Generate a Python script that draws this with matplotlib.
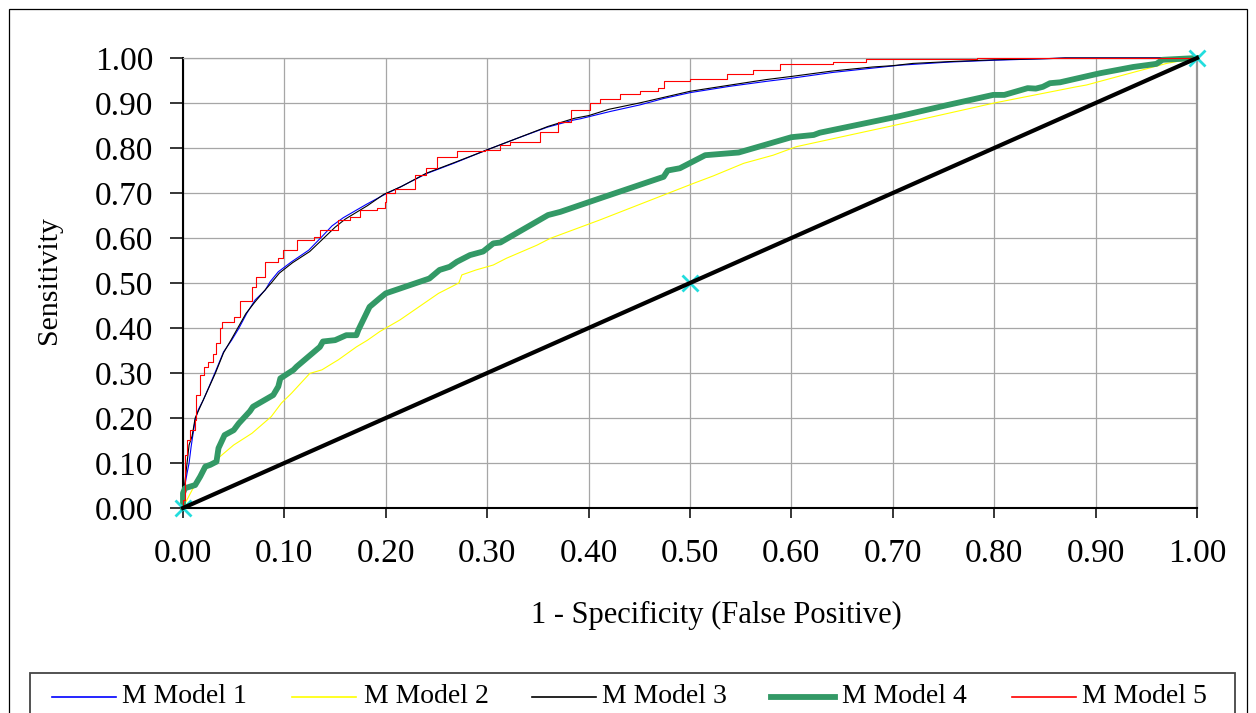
import numpy as np
import matplotlib
matplotlib.use("Agg")
import matplotlib.pyplot as plt
from matplotlib.patches import Rectangle
from matplotlib.lines import Line2D

plt.rcParams['font.family'] = ['Liberation Serif', 'DejaVu Serif']

# ---------------- data ----------------
m1_fpr = [0, 0.001, 0.004, 0.006, 0.008, 0.009, 0.012, 0.015, 0.020, 0.025, 0.032, 0.040, 0.048,
          0.055, 0.063, 0.071, 0.081, 0.086, 0.094, 0.107, 0.124, 0.137, 0.147, 0.158, 0.181, 0.200,
          0.214, 0.240, 0.267, 0.300, 0.329, 0.359, 0.385, 0.392, 0.421, 0.451, 0.474, 0.500, 0.539,
          0.575, 0.600, 0.641, 0.678, 0.707, 0.756, 0.800, 0.858, 0.870, 1.0]
m1_tpr = [0, 0.040, 0.077, 0.100, 0.136, 0.151, 0.196, 0.218, 0.240, 0.266, 0.303, 0.347, 0.373,
          0.399, 0.433, 0.462, 0.484, 0.503, 0.525, 0.547, 0.573, 0.603, 0.627, 0.645, 0.675, 0.698,
          0.713, 0.743, 0.766, 0.796, 0.821, 0.846, 0.862, 0.865, 0.881, 0.896, 0.910, 0.923, 0.937,
          0.948, 0.955, 0.968, 0.977, 0.984, 0.991, 0.995, 0.999, 1.0, 1.0]

m2_fpr = [0, 0.002, 0.009, 0.015, 0.025, 0.040, 0.050, 0.068, 0.087, 0.097, 0.107, 0.125, 0.137,
          0.150, 0.153, 0.171, 0.182, 0.194, 0.214, 0.252, 0.272, 0.275, 0.289, 0.306, 0.319, 0.349,
          0.362, 0.411, 0.503, 0.523, 0.553, 0.582, 0.605, 0.707, 0.800, 0.881, 0.891, 0.970, 1.0]
m2_tpr = [0, 0.010, 0.040, 0.062, 0.092, 0.121, 0.140, 0.166, 0.203, 0.233, 0.255, 0.299, 0.307,
          0.325, 0.329, 0.358, 0.373, 0.392, 0.418, 0.477, 0.500, 0.518, 0.529, 0.540, 0.555, 0.584,
          0.599, 0.640, 0.721, 0.738, 0.766, 0.784, 0.803, 0.853, 0.900, 0.936, 0.940, 0.988, 1.0]

m3_fpr = [0, 0.002, 0.004, 0.006, 0.009, 0.012, 0.016, 0.021, 0.026, 0.032, 0.040, 0.047, 0.054,
          0.062, 0.071, 0.080, 0.087, 0.095, 0.108, 0.125, 0.138, 0.150, 0.160, 0.182, 0.198, 0.215,
          0.240, 0.268, 0.300, 0.330, 0.360, 0.386, 0.400, 0.420, 0.450, 0.475, 0.500, 0.540, 0.575,
          0.600, 0.640, 0.680, 0.700, 0.720, 0.756, 0.800, 0.858, 0.870, 1.0]
m3_tpr = [0, 0.060, 0.100, 0.140, 0.160, 0.200, 0.220, 0.245, 0.270, 0.300, 0.345, 0.372, 0.400,
          0.432, 0.458, 0.482, 0.500, 0.522, 0.545, 0.570, 0.598, 0.624, 0.642, 0.672, 0.697, 0.714,
          0.744, 0.768, 0.796, 0.822, 0.848, 0.866, 0.872, 0.886, 0.900, 0.913, 0.926, 0.940, 0.952,
          0.959, 0.971, 0.980, 0.983, 0.988, 0.992, 0.996, 0.999, 1.0, 1.0]

m4_fpr = [0, 0, 0.002, 0.012, 0.017, 0.022, 0.027, 0.033, 0.035, 0.041, 0.050, 0.055, 0.066,
          0.069, 0.089, 0.094, 0.096, 0.109, 0.112, 0.135, 0.138, 0.150, 0.161, 0.171, 0.173, 0.184,
          0.194, 0.200, 0.243, 0.253, 0.263, 0.270, 0.283, 0.296, 0.306, 0.313, 0.360, 0.372, 0.411,
          0.474, 0.478, 0.490, 0.515, 0.548, 0.600, 0.622, 0.628, 0.707, 0.753, 0.799, 0.810, 0.833,
          0.841, 0.848, 0.855, 0.865, 0.904, 0.937, 0.960, 0.966, 1.0]
m4_tpr = [0, 0.033, 0.044, 0.051, 0.070, 0.092, 0.096, 0.103, 0.133, 0.162, 0.173, 0.188, 0.215,
          0.225, 0.251, 0.270, 0.288, 0.307, 0.314, 0.358, 0.370, 0.373, 0.384, 0.384, 0.396, 0.447,
          0.466, 0.477, 0.510, 0.529, 0.536, 0.547, 0.562, 0.570, 0.588, 0.590, 0.651, 0.658, 0.688,
          0.736, 0.750, 0.755, 0.784, 0.790, 0.824, 0.829, 0.834, 0.871, 0.895, 0.918, 0.918, 0.933,
          0.932, 0.936, 0.944, 0.946, 0.966, 0.980, 0.987, 0.996, 1.0]

m5_fpr = [0, 0, 0.002, 0.004, 0.007, 0.012, 0.013, 0.017, 0.021, 0.025, 0.030, 0.033, 0.036,
          0.038, 0.050, 0.056, 0.064, 0.068, 0.072, 0.081, 0.094, 0.099, 0.112, 0.129, 0.135, 0.153,
          0.165, 0.175, 0.191, 0.199, 0.200, 0.209, 0.229, 0.240, 0.250, 0.270, 0.298, 0.313, 0.322,
          0.352, 0.370, 0.383, 0.401, 0.411, 0.431, 0.451, 0.468, 0.474, 0.500, 0.536, 0.562, 0.589,
          0.641, 0.674, 0.707, 0.783, 1.0]
m5_tpr = [0, 0.018, 0.118, 0.151, 0.173, 0.196, 0.251, 0.296, 0.314, 0.325, 0.343, 0.366, 0.399,
          0.414, 0.425, 0.459, 0.459, 0.492, 0.514, 0.547, 0.555, 0.573, 0.596, 0.603, 0.618, 0.640,
          0.647, 0.662, 0.666, 0.680, 0.700, 0.710, 0.740, 0.755, 0.780, 0.794, 0.795, 0.807, 0.814,
          0.836, 0.858, 0.884, 0.900, 0.908, 0.921, 0.927, 0.933, 0.948, 0.953, 0.964, 0.973, 0.987,
          0.992, 0.997, 0.998, 1.0, 1.0]

ref_x = [0.0, 0.5, 1.0]
ref_y = [0.0, 0.5, 1.0]

series_names = ["M Model 1", "M Model 2", "M Model 3", "M Model 4", "M Model 5"]
ticks = [0.0, 0.1, 0.2, 0.3, 0.4, 0.5, 0.6, 0.7, 0.8, 0.9, 1.0]
x_label = "1 - Specificity (False Positive)"
y_label = "Sensitivity"

# ---------------- figure ----------------
W, H = 1256, 713
fig = plt.figure(figsize=(W / 100, H / 100), dpi=100)
ax = fig.add_axes([183 / W, (H - 508) / H, (1197 - 183) / W, 450 / H])

colors = ["#0000FF", "#FFFF00", "#000000", "#339966", "#FF0000"]
widths = [0.8, 0.8, 0.8, 4.2, 0.8]

ax.plot(m1_fpr, m1_tpr, color=colors[0], lw=widths[0], clip_on=False, zorder=3)
ax.plot(m2_fpr, m2_tpr, color=colors[1], lw=widths[1], clip_on=False, zorder=3)
ax.plot(m3_fpr, m3_tpr, color=colors[2], lw=widths[2], clip_on=False, zorder=3)
ax.plot(m4_fpr, m4_tpr, color=colors[3], lw=widths[3], clip_on=False, zorder=4)
ax.plot(m5_fpr, m5_tpr, color=colors[4], lw=widths[4], drawstyle='steps-post', clip_on=False, zorder=5)
ax.plot(ref_x, ref_y, linestyle='none', marker='x', markersize=11, markeredgewidth=2.0,
        color='#22DDDD', clip_on=False, zorder=5.5)
ax.plot(ref_x, ref_y, color='black', lw=3.0, clip_on=False, zorder=6)

ax.set_xlim(0, 1)
ax.set_ylim(0, 1)
ax.set_xticks(ticks)
ax.set_yticks(ticks)
ax.set_xticklabels([f"{t:.2f}" for t in ticks])
ax.set_yticklabels([f"{t:.2f}" for t in ticks])
ax.tick_params(axis='both', labelsize=24, colors='black', width=1.1)
ax.tick_params(axis='y', direction='out', length=9.4, pad=12)
ax.tick_params(axis='x', direction='out', length=7.2, pad=15)

ax.grid(True, color='#a6a6a6', lw=0.9)
ax.set_axisbelow(True)
for s in ['left', 'bottom']:
    ax.spines[s].set_color('black')
    ax.spines[s].set_linewidth(1.5)
ax.spines['top'].set_color('#a6a6a6')
ax.spines['top'].set_linewidth(0.9)
ax.spines['right'].set_color('#999999')
ax.spines['right'].set_linewidth(1.6)

ax.set_xlabel(x_label, fontsize=22)
ax.set_ylabel(y_label, fontsize=21.5)
ax.xaxis.label.set_va('center')
ax.yaxis.label.set_va('center')
ax.xaxis.set_label_coords((716 - 183) / 1014, (508 - 615) / 450)
ax.yaxis.set_label_coords((49 - 183) / 1014, (508 - 280) / 450)

# outer chart frame
fig.add_artist(Rectangle((9 / W, -0.02), (1247 - 9) / W, (H - 9) / H + 0.02,
                         transform=fig.transFigure, fill=False, ec='black', lw=0.9))

# legend box (extends below the figure edge)
fig.add_artist(Rectangle((30 / W, -0.05), (1235 - 30) / W, (H - 673) / H + 0.05,
                         transform=fig.transFigure, fill=False, ec='#444444', lw=1.3))
handle_x0 = [52, 292, 532, 771, 1012]
text_x0 = [122, 364, 602, 842, 1082]
hy = (H - 696.5) / H
for i in range(5):
    fig.add_artist(Line2D([handle_x0[i] / W, (handle_x0[i] + 64) / W], [hy, hy],
                          transform=fig.transFigure, color=colors[i],
                          lw=widths[i] if i == 3 else 1.2))
    fig.text(text_x0[i] / W, (H - 703.3) / H, series_names[i], fontsize=20,
             ha='left', va='baseline')

fig.savefig("out.png", dpi=100)
